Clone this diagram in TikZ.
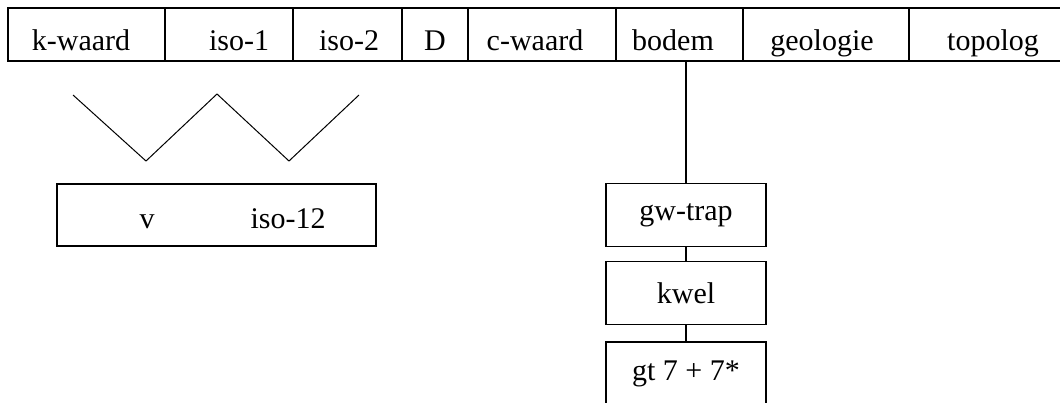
\documentclass[tikz,border=0pt]{standalone}
\usepackage{fontspec}
\setmainfont{Liberation Serif}
\begin{document}
\begin{tikzpicture}[x=1pt,y=-1pt,line width=1.1pt,
  txt/.style={font=\fontsize{30}{36}\selectfont},
  cell/.style={draw,rectangle,inner sep=0pt,minimum height=53pt},
  lbl/.style={txt,inner sep=0pt,anchor=base},
  box/.style={txt,draw,rectangle,inner sep=0pt,minimum width=160pt,minimum height=63pt}]
\useasboundingbox (0,0) rectangle (1060,402);
\clip (0,0) rectangle (1060,402);

% top row of attribute cells
\node[cell,minimum width=157pt] (kw)  at (86.5,34.5) {};
\node[cell,minimum width=128pt] (i1)  at (229,34.5) {};
\node[cell,minimum width=109pt] (i2)  at (347.5,34.5) {};
\node[cell,minimum width=66pt]  (dd)  at (435,34.5) {};
\node[cell,minimum width=148pt] (cw)  at (542,34.5) {};
\node[cell,minimum width=127pt] (bod) at (679.5,34.5) {};
\node[cell,minimum width=166pt] (geo) at (826,34.5) {};
\node[cell,minimum width=171pt] (top) at (994.5,34.5) {};

\node[lbl] (kwl)  at (81,50)  {k-waard};
\node[lbl] (i1l)  at (239,50) {iso-1};
\node[lbl] (i2l)  at (349,50) {iso-2};
\node[lbl] (ddl)  at (435,50) {D};
\node[lbl] (cwl)  at (535,50) {c-waard};
\node[lbl] (bodl) at (673,50) {bodem};
\node[lbl] (geol) at (822,50) {geologie};
\node[lbl] (topl) at (993,50) {topolog};

% zigzag
\coordinate (z1) at (73,95);
\coordinate (z2) at (146,161);
\coordinate (z3) at (217,94);
\coordinate (z4) at (289,161);
\coordinate (z5) at (359,95);
\draw[line width=1pt] (z1) -- (z2) -- (z3) -- (z4) -- (z5);

% combined box
\node[cell,minimum width=319pt,minimum height=62pt] (vb) at (216.5,215) {};
\node[lbl] (vl)   at (147,228) {v};
\node[lbl] (i12l) at (288,228) {iso-12};

% soil chain
\node[box] (gw)   at (686,215) {gw-trap};
\node[box] (kwel) at (686,293) {kwel};
\node[box,minimum height=64pt] (gt) at (686,374) {gt 7 + 7*};

\draw (gw.north) -- (gw.north |- bod.south);
\draw (gw.south) -- (kwel.north);
\draw (kwel.south) -- (gt.north);
\end{tikzpicture}
\end{document}
